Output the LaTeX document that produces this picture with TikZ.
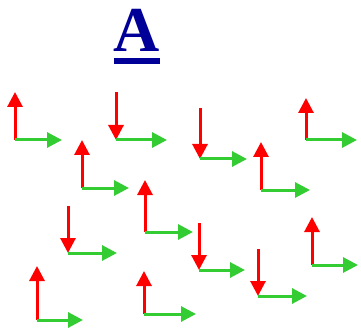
\documentclass[tikz,border=0pt]{standalone}
\usepackage{fontspec}
\setmainfont{Liberation Serif}
\usetikzlibrary{arrows.meta}
\definecolor{titleblue}{RGB}{0,0,153}
\definecolor{axred}{RGB}{255,0,0}
\definecolor{axgreen}{RGB}{51,204,51}
\tikzset{
  redvec/.style={draw=axred, line width=3pt, -{Triangle[length=15pt,width=15pt]}, fill=axred},
  greenvec/.style={draw=axgreen, line width=3pt, -{Triangle[length=15pt,width=15pt]}, fill=axgreen},
}
% frame #1 at (#2,#3): red arm of length #4, green arm of length #5
\newcommand{\frameup}[5]{%
  \coordinate (o#1) at (#2,#3);
  \coordinate (r#1) at (#2,#3-#4);
  \coordinate (g#1) at (#2+#5,#3);
  \draw[redvec] (o#1) -- (r#1);
  \draw[greenvec] (o#1) -- (g#1);
}
\newcommand{\framedown}[5]{%
  \coordinate (o#1) at (#2,#3);
  \coordinate (r#1) at (#2,#3-#4);
  \coordinate (g#1) at (#2+#5,#3);
  \draw[redvec] (r#1) -- (o#1);
  \draw[greenvec] (o#1) -- (g#1);
}
\begin{document}
\begin{tikzpicture}[x=1pt,y=-1pt]
  \useasboundingbox (0,0) rectangle (361,331);
  % title
  \node[anchor=base, inner sep=0pt, text=titleblue, font=\fontsize{64}{64}\selectfont\bfseries] (title) at (136.5,52) {A};
  \fill[titleblue] (113.5,58) rectangle (160,64);
  % coordinate frames
  \frameup{a}{15}{140}{48}{47}
  \framedown{b}{116}{140}{48}{51}
  \frameup{c}{82}{188}{48}{47}
  \frameup{d}{145}{232}{52}{48}
  \framedown{e}{200}{159}{51}{47}
  \frameup{f}{306}{140}{42}{51}
  \frameup{g}{261}{190}{48}{49}
  \framedown{h}{68}{253}{47}{49}
  \frameup{i}{37}{320}{54}{46}
  \frameup{j}{144}{314}{43}{52}
  \framedown{k}{199}{270}{47}{46}
  \framedown{l}{258}{296}{47}{49}
  \frameup{m}{312}{265}{48}{46}
\end{tikzpicture}
\end{document}
